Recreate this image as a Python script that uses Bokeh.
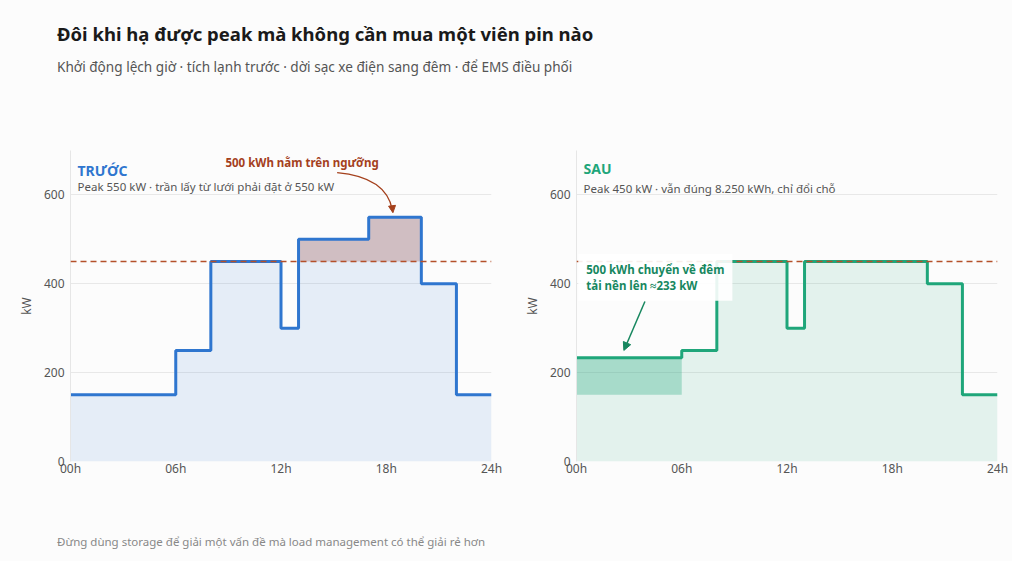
from bokeh.plotting import figure
from bokeh.layouts import column, row
from bokeh.models import Div, Range1d, FixedTicker, Label, Arrow, NormalHead, Span
from bokeh.embed import file_html
from bokeh.resources import INLINE
import numpy as np

# data: hourly load profile (kW), steps start at each edge
hours = [0, 6, 8, 12, 13, 17, 20, 22, 24]
before_kw = [150, 250, 450, 300, 500, 550, 400, 150]
after_kw = [233.33, 250, 450, 300, 450, 450, 400, 150]
threshold = 450
tick_hours = [0, 6, 12, 18, 24]
tick_labels = ["00h", "06h", "12h", "18h", "24h"]
y_ticks = [0, 200, 400, 600]

FONT = "Noto Sans"
BG = "#fcfcfc"
BLUE = "#2f76cf"
GREEN = "#1fa67a"
RUST = "#b4502a"


def base_fig(left, right, width):
    p = figure(width=width, height=371, x_range=Range1d(0, 24), y_range=Range1d(0, 700),
               output_backend="svg", toolbar_location=None,
               min_border_left=left, min_border_right=right, min_border_top=42, min_border_bottom=0)
    p.background_fill_color = BG
    p.border_fill_color = BG
    p.outline_line_color = None
    p.xgrid.grid_line_color = None
    p.ygrid.grid_line_color = "#e8e8e8"
    p.xaxis.ticker = FixedTicker(ticks=tick_hours)
    p.xaxis.major_label_overrides = dict(zip(tick_hours, tick_labels))
    p.yaxis.ticker = FixedTicker(ticks=y_ticks)
    p.yaxis.axis_label = "kW"
    for ax in (p.xaxis, p.yaxis):
        ax.major_tick_line_color = None
        ax.minor_tick_line_color = None
        ax.major_tick_out = 0
        ax.major_tick_in = 0
        ax.minor_tick_out = 0
        ax.major_label_text_font = FONT
        ax.major_label_text_font_size = "12px"
        ax.major_label_text_color = "#555555"
        ax.axis_label_text_font = FONT
        ax.axis_label_text_font_size = "12px"
        ax.axis_label_text_font_style = "normal"
        ax.axis_label_text_color = "#555555"
    p.xaxis.axis_line_color = None
    p.xaxis.major_label_standoff = -2
    p.yaxis.axis_line_color = "#e6e6e6"
    p.yaxis.major_label_standoff = 6
    p.yaxis.axis_label_standoff = 6
    return p


def step_y(vals):
    return list(vals) + [vals[-1]]


# ---- TRƯỚC ----
p1 = base_fig(70, 15, 506)
b = np.array(before_kw, dtype=float)
p1.varea_step(x=hours, y1=0, y2=step_y(b), step_mode="after", fill_color=BLUE, fill_alpha=0.11)
over = np.maximum(b, threshold)
p1.varea_step(x=hours, y1=threshold, y2=step_y(over), step_mode="after", fill_color="#a0524a", fill_alpha=0.3)
p1.step(hours, step_y(b), mode="after", line_color=BLUE, line_width=3)
p1.add_layout(Span(location=threshold, dimension="width", line_color=RUST, line_dash="6 4", line_width=1.5))

p1.add_layout(Label(x=0.4, y=656, text="TRƯỚC", text_font=FONT, text_font_size="14px",
                    text_font_style="bold", text_color=BLUE, text_baseline="middle"))
p1.add_layout(Label(x=0.4, y=618, text="Peak 550 kW · trần lấy từ lưới phải đặt ở 550 kW", text_font=FONT,
                    text_font_size="11.5px", text_color="#555555", text_baseline="middle"))
p1.add_layout(Label(x=13.2, y=672, text="500 kWh nằm trên ngưỡng", text_font=FONT, text_font_size="11.5px",
                    text_font_style="bold", text_color="#a4401c", text_align="center", text_baseline="middle"))
p1.quadratic(x0=[15.2], y0=[650], x1=[18.35], y1=[566], cx=[18.0], cy=[640], line_color="#a4401c", line_width=1.3)
p1.add_layout(Arrow(x_start=18.3, y_start=585, x_end=18.38, y_end=560, line_alpha=0,
                    end=NormalHead(size=7, fill_color="#a4401c", line_color="#a4401c")))

# ---- SAU ----
p2 = base_fig(70, 15, 506)
a = np.array(after_kw, dtype=float)
p2.varea_step(x=hours, y1=0, y2=step_y(a), step_mode="after", fill_color=GREEN, fill_alpha=0.11)
shifted = np.maximum(a, b)
p2.varea_step(x=hours, y1=step_y(b), y2=step_y(shifted), step_mode="after", fill_color=GREEN, fill_alpha=0.3)
p2.step(hours, step_y(a), mode="after", line_color=GREEN, line_width=3)
p2.add_layout(Span(location=threshold, dimension="width", line_color=RUST, line_dash="6 4", line_width=1.5))

p2.add_layout(Label(x=0.4, y=660, text="SAU", text_font=FONT, text_font_size="14px",
                    text_font_style="bold", text_color=GREEN, text_baseline="middle"))
p2.add_layout(Label(x=0.4, y=614, text="Peak 450 kW · vẫn đúng 8.250 kWh, chỉ đổi chỗ", text_font=FONT,
                    text_font_size="11.5px", text_color="#555555", text_baseline="middle"))
p2.add_layout(Label(x=0.1, y=362, text="500 kWh chuyển về đêm\ntải nền lên ≈233 kW", text_font=FONT,
                    text_font_size="11.5px", text_font_style="bold", text_color="#17875f", text_line_height=1.05,
                    background_fill_color="white", background_fill_alpha=0.9, padding=8))
p2.add_layout(Arrow(x_start=3.9, y_start=360, x_end=2.7, y_end=250, line_color="#17875f", line_width=1.5,
                    end=NormalHead(size=8, fill_color="#17875f", line_color="#17875f")))

header = Div(text=(
    f'<div style="font-family:\'{FONT}\';padding-left:52px;padding-top:16px;">'
    '<div style="font-size:18.5px;font-weight:bold;color:#1a1a1a;line-height:26px;">'
    'Đôi khi hạ được peak mà không cần mua một viên pin nào</div>'
    '<div style="font-size:13.6px;color:#555555;line-height:20px;margin-top:10px;">'
    'Khởi động lệch giờ · tích lạnh trước · dời sạc xe điện sang đêm · để EMS điều phối</div></div>'),
    width=1000, height=98, styles={"background-color": BG})
footer = Div(text=(
    f'<div style="font-family:\'{FONT}\';padding-left:52px;padding-top:49px;font-size:11.5px;'
    'color:#888888;line-height:18px;">'
    'Đừng dùng storage để giải một vấn đề mà load management có thể giải rẻ hơn</div>'),
    width=1000, height=72, styles={"background-color": BG})

layout = column(header, row(p1, p2), footer, styles={"background-color": BG})
open("out.html", "w").write(file_html(layout, INLINE))
